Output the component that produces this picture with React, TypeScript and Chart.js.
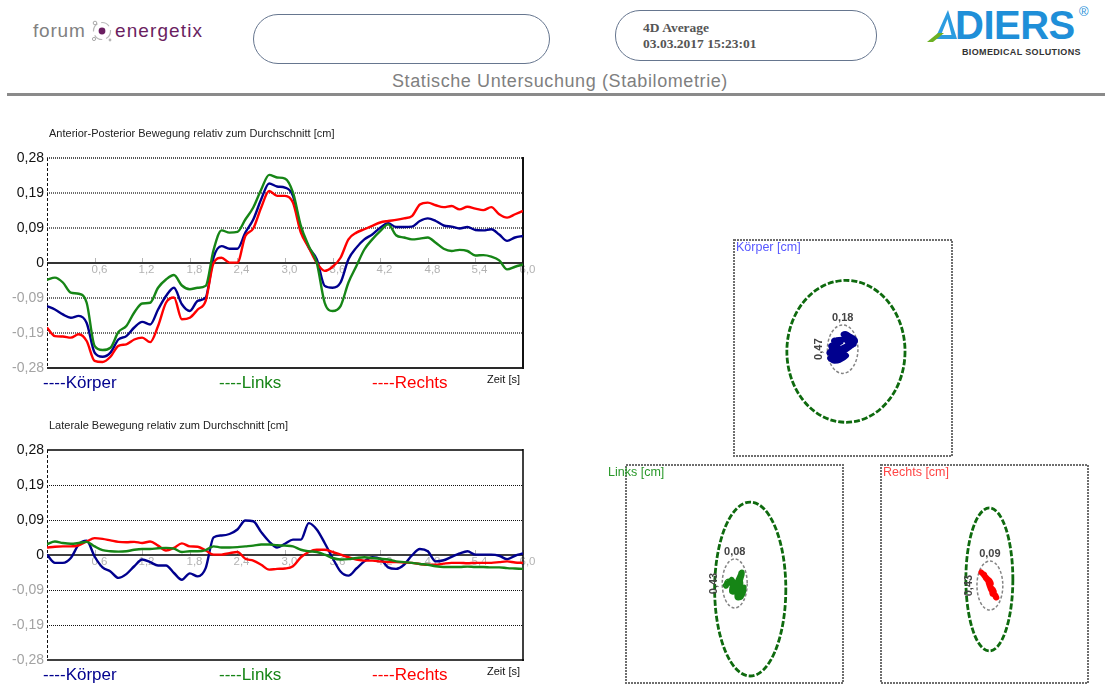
import React, { useEffect, useRef } from 'react';
import { Chart, registerables } from 'chart.js';
Chart.register(...registerables);

const FONT = '"Liberation Sans", Arial, Helvetica, sans-serif';
const SERIF = '"Liberation Serif", "Times New Roman", serif';

// ---------- data ----------
const TIME = [0, 0.1, 0.2, 0.3, 0.4, 0.5, 0.6, 0.7, 0.8, 0.9, 1.0, 1.1, 1.2, 1.3, 1.4, 1.5, 1.6, 1.7, 1.8, 1.9,
  2.0, 2.1, 2.2, 2.3, 2.4, 2.5, 2.6, 2.7, 2.8, 2.9, 3.0, 3.1, 3.2, 3.3, 3.4, 3.5, 3.6, 3.7, 3.8, 3.9,
  4.0, 4.1, 4.2, 4.3, 4.4, 4.5, 4.6, 4.7, 4.8, 4.9, 5.0, 5.1, 5.2, 5.3, 5.4, 5.5, 5.6, 5.7, 5.8, 5.9, 6.0];

// Anterior-Posterior [cm]
const AP_KOERPER = [-0.115, -0.124, -0.137, -0.146, -0.141, -0.160, -0.239, -0.250, -0.239, -0.204, -0.195, -0.172, -0.157, -0.164, -0.124, -0.088, -0.066, -0.110, -0.128, -0.101,
  -0.092, 0.015, 0.045, 0.038, 0.038, 0.081, 0.116, 0.170, 0.212, 0.204, 0.201, 0.179, 0.090, 0.041, 0.010, -0.061, -0.066, -0.052, 0.010, 0.041,
  0.063, 0.076, 0.094, 0.106, 0.096, 0.096, 0.097, 0.112, 0.119, 0.112, 0.100, 0.097, 0.092, 0.096, 0.088, 0.087, 0.090, 0.076, 0.059, 0.068, 0.072];
const AP_LINKS = [-0.045, -0.039, -0.052, -0.079, -0.082, -0.106, -0.221, -0.232, -0.226, -0.184, -0.168, -0.132, -0.108, -0.106, -0.066, -0.044, -0.032, -0.060, -0.070, -0.066,
  -0.061, 0.035, 0.087, 0.081, 0.083, 0.116, 0.148, 0.196, 0.235, 0.228, 0.225, 0.188, 0.099, 0.045, 0.001, -0.106, -0.128, -0.115, -0.052, -0.008,
  0.036, 0.063, 0.085, 0.103, 0.074, 0.068, 0.063, 0.065, 0.068, 0.054, 0.038, 0.032, 0.035, 0.032, 0.020, 0.021, 0.017, 0.007, -0.017, -0.010, -0.004];
const AP_RECHTS = [-0.172, -0.195, -0.196, -0.199, -0.190, -0.208, -0.261, -0.264, -0.250, -0.221, -0.217, -0.204, -0.199, -0.211, -0.168, -0.106, -0.092, -0.150, -0.146, -0.124,
  -0.101, 0.000, 0.014, 0.001, 0.001, 0.072, 0.092, 0.148, 0.192, 0.179, 0.179, 0.161, 0.081, 0.041, 0.001, -0.021, -0.010, 0.014, 0.063, 0.081,
  0.090, 0.099, 0.108, 0.112, 0.115, 0.119, 0.125, 0.156, 0.161, 0.154, 0.149, 0.152, 0.143, 0.150, 0.145, 0.141, 0.149, 0.130, 0.121, 0.130, 0.139];

// Lateral [cm]
const LAT_KOERPER = [0.001, -0.021, -0.021, -0.008, 0.028, 0.038, -0.004, -0.033, -0.044, -0.061, -0.051, -0.030, -0.012, -0.019, -0.028, -0.028, -0.048, -0.066, -0.049, -0.057,
  -0.035, 0.047, 0.052, 0.056, 0.068, 0.092, 0.090, 0.061, 0.036, 0.020, 0.030, 0.041, 0.041, 0.085, 0.068, 0.032, -0.008, -0.044, -0.055, -0.036,
  -0.017, -0.006, -0.010, -0.033, -0.037, -0.026, -0.001, 0.016, 0.010, -0.017, -0.014, -0.005, 0.004, 0.010, 0.001, 0.001, 0.001, -0.002, -0.011, -0.002, 0.004];
const LAT_LINKS = [0.029, 0.036, 0.032, 0.030, 0.032, 0.035, 0.023, 0.013, 0.010, 0.009, 0.010, 0.014, 0.016, 0.016, 0.018, 0.019, 0.017, 0.008, 0.010, 0.010,
  0.013, 0.023, 0.020, 0.020, 0.021, 0.023, 0.025, 0.028, 0.028, 0.026, 0.025, 0.023, 0.014, 0.010, 0.008, 0.001, -0.008, -0.012, -0.011, -0.008,
  -0.006, -0.008, -0.010, -0.012, -0.017, -0.019, -0.021, -0.024, -0.026, -0.030, -0.032, -0.032, -0.032, -0.031, -0.032, -0.032, -0.033, -0.033, -0.035, -0.036, -0.037];
const LAT_RECHTS = [0.020, 0.022, 0.023, 0.023, 0.026, 0.036, 0.045, 0.043, 0.039, 0.035, 0.034, 0.035, 0.032, 0.036, 0.025, 0.012, 0.019, 0.031, 0.023, 0.022,
  0.012, 0.001, 0.001, 0.005, 0.008, -0.010, -0.015, -0.026, -0.039, -0.037, -0.036, -0.030, -0.006, 0.008, 0.014, 0.014, 0.008, 0.001, -0.006, -0.012,
  -0.015, -0.015, -0.017, -0.019, -0.019, -0.020, -0.021, -0.024, -0.026, -0.026, -0.023, -0.021, -0.021, -0.022, -0.021, -0.021, -0.021, -0.019, -0.017, -0.020, -0.021];

const SERIES_NAMES = ['Körper', 'Links', 'Rechts'];
const SERIES_COLORS = ['#00008e', '#168516', '#ff0000'];

const Y_TICKS = [-0.28, -0.18667, -0.09333, 0, 0.09333, 0.18667, 0.28];
const Y_TICK_LABELS = ['-0,28', '-0,19', '-0,09', '0', '0,09', '0,19', '0,28'];
const X_TICKS = [0.6, 1.2, 1.8, 2.4, 3.0, 3.6, 4.2, 4.8, 5.4, 6.0];
const X_TICK_LABELS = ['0,6', '1,2', '1,8', '2,4', '3,0', '3,6', '4,2', '4,8', '5,4', '6,0'];

// Ellipses in the stabilogram panels (panel units, Körper / Links / Rechts)
const OUTER_CX = [0.027, 0.145, 0.047];
const OUTER_CY = [-0.031, -0.138, -0.050];
const OUTER_RX = [0.542, 0.328, 0.227];
const OUTER_RY = [0.657, 0.798, 0.656];
const INNER_CX = [-0.003, 0.002, 0.052];
const INNER_CY = [-0.011, -0.087, -0.106];
const INNER_RX = [0.140, 0.115, 0.125];
const INNER_RY = [0.224, 0.225, 0.225];
const INNER_W_LABELS = ['0,18', '0,08', '0,09'];
const INNER_H_LABELS = ['0,47', '0,43', '0,43'];

// ---------- layout / styles ----------
const LEGEND_X = [43, 219, 372];
const BLOB_CX = [-0.008, 0.002, 0.042];
const BLOB_CY = [0.005, -0.101, -0.101];
const BLOB_W = [0.24, 0.17, 0.15];
const BLOB_H = [0.25, 0.235, 0.235];
const PANEL_BOXES = [
  { left: 734, top: 240, w: 218, h: 216, labelDx: 2 },
  { left: 626, top: 465, w: 217, h: 218, labelDx: -18 },
  { left: 881, top: 465, w: 207, h: 218, labelDx: 2 },
];
const PANEL_TITLE_COLORS = ['#5757ff', '#2a992a', '#ff4545'];

const AP_STYLE = {
  grid: { color: '#6c6c6c', width: 2, dash: [1, 1] },
  zero: { color: '#333333', width: 2 },
  top: { color: '#555555', width: 2, dash: [1, 1] },
  bottom: { color: '#2a2a2a', width: 2, dash: [] },
  right: { color: '#111111', width: 2 },
};
const LAT_STYLE = {
  grid: { color: '#111111', width: 1, dash: [1, 1] },
  zero: { color: '#000000', width: 1.5 },
  top: { color: '#000000', width: 1.5, dash: [] },
  bottom: { color: '#000000', width: 1.5, dash: [] },
  right: { color: '#000000', width: 1.5 },
};

function hline(ctx: any, x0: number, x1: number, y: number, color: string, width: number, dash: number[]) {
  const yy = width === 1 ? Math.round(y) + 0.5 : Math.round(y);
  ctx.strokeStyle = color; ctx.lineWidth = width; ctx.setLineDash(dash);
  ctx.beginPath(); ctx.moveTo(x0, yy); ctx.lineTo(x1, yy); ctx.stroke();
}
function vline(ctx: any, x: number, y0: number, y1: number, color: string, width: number, dash: number[]) {
  const xx = width === 1 ? Math.round(x) + 0.5 : Math.round(x);
  ctx.strokeStyle = color; ctx.lineWidth = width; ctx.setLineDash(dash);
  ctx.beginPath(); ctx.moveTo(xx, y0); ctx.lineTo(xx, y1); ctx.stroke();
}

const timeDecor = {
  id: 'timeDecor',
  beforeDatasetsDraw(chart: any, _a: any, o: any) {
    const { ctx, chartArea: a } = chart;
    const sx = chart.scales.x, sy = chart.scales.y;
    const st = o.style;
    ctx.save();
    Y_TICKS.forEach((v, i) => {
      if (v === 0 || i === 0 || i === Y_TICKS.length - 1) return;
      hline(ctx, a.left, a.right, sy.getPixelForValue(v), st.grid.color, st.grid.width, st.grid.dash);
    });
    const pz = sy.getPixelForValue(0);
    ctx.setLineDash([]);
    ctx.font = `11.5px ${FONT}`;
    ctx.textAlign = 'center';
    ctx.textBaseline = 'middle';
    X_TICKS.forEach((v, i) => {
      const px = Math.round(sx.getPixelForValue(v)) + 0.5;
      ctx.strokeStyle = '#b5b5b5'; ctx.lineWidth = 1;
      ctx.beginPath(); ctx.moveTo(px, pz - 5); ctx.lineTo(px, pz); ctx.stroke();
      ctx.fillStyle = '#b3b3b3';
      ctx.fillText(X_TICK_LABELS[i], px + 4, pz + 7);
    });
    hline(ctx, a.left, a.right, pz, st.zero.color, st.zero.width, []);
    const yTop = sy.getPixelForValue(Y_TICKS[Y_TICKS.length - 1]);
    const yBot = sy.getPixelForValue(Y_TICKS[0]);
    hline(ctx, a.left, a.right, yTop, st.top.color, st.top.width, st.top.dash);
    hline(ctx, a.left, a.right + 1, yBot, st.bottom.color, st.bottom.width, st.bottom.dash);
    vline(ctx, a.right, yTop - 1, yBot + 1, st.right.color, st.right.width, []);
    vline(ctx, a.left, yTop, yBot, '#111111', 1, [3, 2]);
    ctx.restore();
  },
  afterDraw(chart: any, _a: any, o: any) {
    const { ctx, chartArea: a } = chart;
    ctx.save();
    ctx.textBaseline = 'middle';
    ctx.textAlign = 'left';
    ctx.fillStyle = '#222';
    ctx.font = `11px ${FONT}`;
    ctx.fillText(o.title, a.left + 2, a.top - 24);
    ctx.font = `17px ${FONT}`;
    SERIES_NAMES.forEach((n, i) => {
      ctx.fillStyle = SERIES_COLORS[i];
      ctx.fillText('----' + n, LEGEND_X[i], a.bottom + 15.5);
    });
    ctx.textAlign = 'right';
    ctx.fillStyle = '#111';
    ctx.font = `11px ${FONT}`;
    ctx.fillText('Zeit [s]', a.right - 3, a.bottom + 11.5);
    ctx.restore();
  },
};

function TimeChart({ top, title, series, style }: { top: number; title: string; series: number[][]; style: any }) {
  const ref = useRef<HTMLCanvasElement>(null);
  useEffect(() => {
    if (!ref.current) return;
    const order = [1, 2, 0];
    const chart = new Chart(ref.current, {
      type: 'line',
      data: {
        datasets: order.map((k) => ({
          label: SERIES_NAMES[k],
          data: TIME.map((t, i) => ({ x: t, y: series[k][i] })),
          borderColor: SERIES_COLORS[k],
          borderWidth: 2.4,
          pointRadius: 0,
          cubicInterpolationMode: 'monotone' as const,
          fill: false,
        })),
      },
      options: {
        responsive: false,
        animation: false,
        devicePixelRatio: 1,
        events: [],
        layout: { padding: { top: 38, right: 22, bottom: 32, left: 0 } },
        scales: {
          x: { type: 'linear', min: 0, max: 6, display: false },
          y: {
            type: 'linear',
            min: -0.28,
            max: 0.28,
            afterBuildTicks: (s: any) => { s.ticks = Y_TICKS.map((v) => ({ value: v })); },
            afterFit: (s: any) => { s.width = 47; },
            grid: { display: false, drawTicks: false },
            border: { display: false },
            ticks: {
              padding: 3,
              font: { family: FONT, size: 14 },
              color: (c: any) => (c.tick && c.tick.value < 0 ? '#a3a3a3' : '#111'),
              callback: (_v: any, i: number) => Y_TICK_LABELS[i],
            },
          },
        },
        plugins: {
          legend: { display: false },
          tooltip: { enabled: false },
          timeDecor: { title, style },
        } as any,
      },
      plugins: [timeDecor],
    } as any);
    return () => chart.destroy();
  }, []);
  return <canvas ref={ref} width={545} height={280} style={{ position: 'absolute', left: 0, top, width: 545, height: 280 }} />;
}

function blobAxis(vals: number[], center: number, size: number) {
  const lo = Math.min(...vals), hi = Math.max(...vals);
  const mid = (lo + hi) / 2, k = size / (hi - lo);
  return { min: mid + (-1 - center) / k, max: mid + (1 - center) / k };
}

const panelDecor = {
  id: 'panelDecor',
  beforeDatasetsDraw(chart: any, _a: any, o: any) {
    const { ctx, chartArea: a } = chart;
    const sx = chart.scales.x, sy = chart.scales.y;
    const i = o.index;
    ctx.save();
    ctx.strokeStyle = '#6e6e6e'; ctx.lineWidth = 2; ctx.setLineDash([2, 1]);
    ctx.strokeRect(a.left, a.top, a.width, a.height);
    const ell = (cx: number, cy: number, rx: number, ry: number, color: string, w: number, dash: number[]) => {
      const px = sx.getPixelForValue(cx), py = sy.getPixelForValue(cy);
      const prx = Math.abs(sx.getPixelForValue(cx + rx) - px);
      const pry = Math.abs(sy.getPixelForValue(cy + ry) - py);
      ctx.strokeStyle = color; ctx.lineWidth = w; ctx.setLineDash(dash);
      ctx.beginPath(); ctx.ellipse(px, py, prx, pry, 0, 0, Math.PI * 2); ctx.stroke();
    };
    ell(OUTER_CX[i], OUTER_CY[i], OUTER_RX[i], OUTER_RY[i], '#0e6a0e', 2.8, [6, 2]);
    ell(INNER_CX[i], INNER_CY[i], INNER_RX[i], INNER_RY[i], '#858585', 1.5, [3, 2]);
    ctx.restore();
  },
  afterDraw(chart: any, _a: any, o: any) {
    const { ctx, chartArea: a } = chart;
    const sx = chart.scales.x, sy = chart.scales.y;
    const i = o.index;
    ctx.save();
    ctx.textBaseline = 'middle';
    ctx.textAlign = 'left';
    ctx.font = `12.5px ${FONT}`;
    ctx.fillStyle = PANEL_TITLE_COLORS[i];
    ctx.fillText(`${SERIES_NAMES[i]} [cm]`, a.left + PANEL_BOXES[i].labelDx, a.top + 8);
    const gx = sx.getPixelForValue(INNER_CX[i]);
    const gy = sy.getPixelForValue(INNER_CY[i]);
    const gTop = sy.getPixelForValue(INNER_CY[i] + INNER_RY[i]);
    const gLeft = sx.getPixelForValue(INNER_CX[i] - INNER_RX[i]);
    ctx.font = `bold 11px ${FONT}`;
    ctx.fillStyle = '#444';
    ctx.textAlign = 'center';
    ctx.fillText(INNER_W_LABELS[i], gx, gTop - 7);
    ctx.translate(gLeft - 8, gy);
    ctx.rotate(-Math.PI / 2);
    ctx.fillText(INNER_H_LABELS[i], 0, 0);
    ctx.restore();
  },
};

const PANEL_SERIES = [[LAT_KOERPER, AP_KOERPER], [LAT_LINKS, AP_LINKS], [LAT_RECHTS, AP_RECHTS]];

function Panel({ index }: { index: number }) {
  const ref = useRef<HTMLCanvasElement>(null);
  const box = PANEL_BOXES[index];
  const cw = box.w + 30, ch = box.h + 20;
  useEffect(() => {
    if (!ref.current) return;
    const [lat, ap] = PANEL_SERIES[index];
    const bx = blobAxis(lat, BLOB_CX[index], BLOB_W[index]);
    const by = blobAxis(ap, BLOB_CY[index], BLOB_H[index]);
    const chart = new Chart(ref.current, {
      type: 'line',
      data: {
        datasets: [{
          label: SERIES_NAMES[index],
          data: lat.map((v, i) => ({ x: v, y: ap[i] })),
          xAxisID: 'bx',
          yAxisID: 'by',
          borderColor: SERIES_COLORS[index],
          backgroundColor: SERIES_COLORS[index],
          borderWidth: 5.5,
          borderJoinStyle: 'round',
          borderCapStyle: 'round',
          pointRadius: 0,
          tension: 0.2,
          fill: 'shape',
        }],
      },
      options: {
        responsive: false,
        animation: false,
        devicePixelRatio: 1,
        events: [],
        layout: { padding: { left: 20, top: 10, right: 10, bottom: 10 } },
        scales: {
          x: { type: 'linear', min: -1, max: 1, display: false },
          y: { type: 'linear', min: -1, max: 1, display: false },
          bx: { type: 'linear', axis: 'x', position: 'bottom', min: bx.min, max: bx.max, display: false },
          by: { type: 'linear', axis: 'y', position: 'left', min: by.min, max: by.max, display: false },
        },
        plugins: {
          legend: { display: false },
          tooltip: { enabled: false },
          filler: { propagate: false },
          panelDecor: { index },
        } as any,
      },
      plugins: [panelDecor],
    } as any);
    return () => chart.destroy();
  }, []);
  return (
    <canvas ref={ref} width={cw} height={ch}
      style={{ position: 'absolute', left: box.left - 20, top: box.top - 10, width: cw, height: ch }} />
  );
}

function abs(left: number, top: number, extra: any = {}) {
  return { position: 'absolute' as const, left, top, whiteSpace: 'nowrap' as const, ...extra };
}

export default function App() {
  return (
    <div style={{ position: 'fixed', left: 0, top: 0, width: 1113, height: 693, background: '#fff', overflow: 'hidden' }}>
      {/* forum energetix logo */}
      <div style={abs(33, 21, { fontFamily: FONT, fontSize: 19, lineHeight: '19px', color: '#818181', letterSpacing: 0.8 })}>forum</div>
      <svg style={abs(89, 18)} width={26} height={26} viewBox="0 0 26 26">
        <circle cx={13} cy={13} r={8.5} fill="none" stroke="#b9b9b9" strokeWidth={1.2} strokeDasharray="9 4" />
        <circle cx={13} cy={13} r={3.4} fill="#6a1e60" />
        <circle cx={6} cy={5} r={1.8} fill="none" stroke="#aaa" strokeWidth={1} />
        <circle cx={5} cy={21} r={1.6} fill="none" stroke="#aaa" strokeWidth={1} />
        <circle cx={21} cy={22} r={1.4} fill="#b5b5b5" />
      </svg>
      <div style={abs(115, 21, { fontFamily: FONT, fontSize: 19, lineHeight: '19px', color: '#6a1e60', letterSpacing: 1.1 })}>energetix</div>

      {/* pills */}
      <div style={abs(253, 14, { width: 297, height: 50, boxSizing: 'border-box', border: '1px solid #66768f', borderRadius: 25 })} />
      <div style={abs(615, 10, { width: 262, height: 51, boxSizing: 'border-box', border: '1px solid #66768f', borderRadius: 25 })} />
      <div style={abs(643, 20.7, { fontFamily: SERIF, fontWeight: 'bold', fontSize: 13.5, lineHeight: '13.5px', color: '#555' })}>4D Average</div>
      <div style={abs(643, 37.2, { fontFamily: SERIF, fontWeight: 'bold', fontSize: 13.5, lineHeight: '13.5px', color: '#555' })}>03.03.2017 15:23:01</div>

      {/* DIERS logo */}
      <svg style={abs(926, 9)} width={32} height={34} viewBox="0 0 32 34">
        <polygon points="22,1 31,30 9,30" fill="#2c9ce0" />
        <polygon points="21.5,10 25.5,26 15,26" fill="#ffffff" />
        <polygon points="1,33 12,24 18,24 7,33" fill="#6cb024" />
      </svg>
      <div style={abs(955, 5.1, { fontFamily: FONT, fontWeight: 'bold', fontSize: 40, lineHeight: '40px', color: '#1f8fd8', letterSpacing: -0.5 })}>DIERS</div>
      <div style={abs(1079, 5, { fontFamily: FONT, fontSize: 13, lineHeight: '13px', color: '#1f8fd8' })}>®</div>
      <div style={abs(962, 47.9, { fontFamily: FONT, fontWeight: 'bold', fontSize: 9, lineHeight: '9px', color: '#333', letterSpacing: 0.35 })}>BIOMEDICAL SOLUTIONS</div>

      {/* title + rule */}
      <div style={abs(260, 71.8, { width: 600, textAlign: 'center', fontFamily: FONT, fontSize: 18, lineHeight: '18px', color: '#7f7f7f', letterSpacing: 0.6 })}>
        Statische Untersuchung (Stabilometrie)
      </div>
      <div style={abs(7, 93, { width: 1098, height: 3, background: '#8a8a8a' })} />

      <TimeChart top={120} title="Anterior-Posterior Bewegung relativ zum Durchschnitt [cm]"
        series={[AP_KOERPER, AP_LINKS, AP_RECHTS]} style={AP_STYLE} />
      <TimeChart top={412} title="Laterale Bewegung relativ zum Durchschnitt [cm]"
        series={[LAT_KOERPER, LAT_LINKS, LAT_RECHTS]} style={LAT_STYLE} />

      <Panel index={0} />
      <Panel index={1} />
      <Panel index={2} />
    </div>
  );
}
